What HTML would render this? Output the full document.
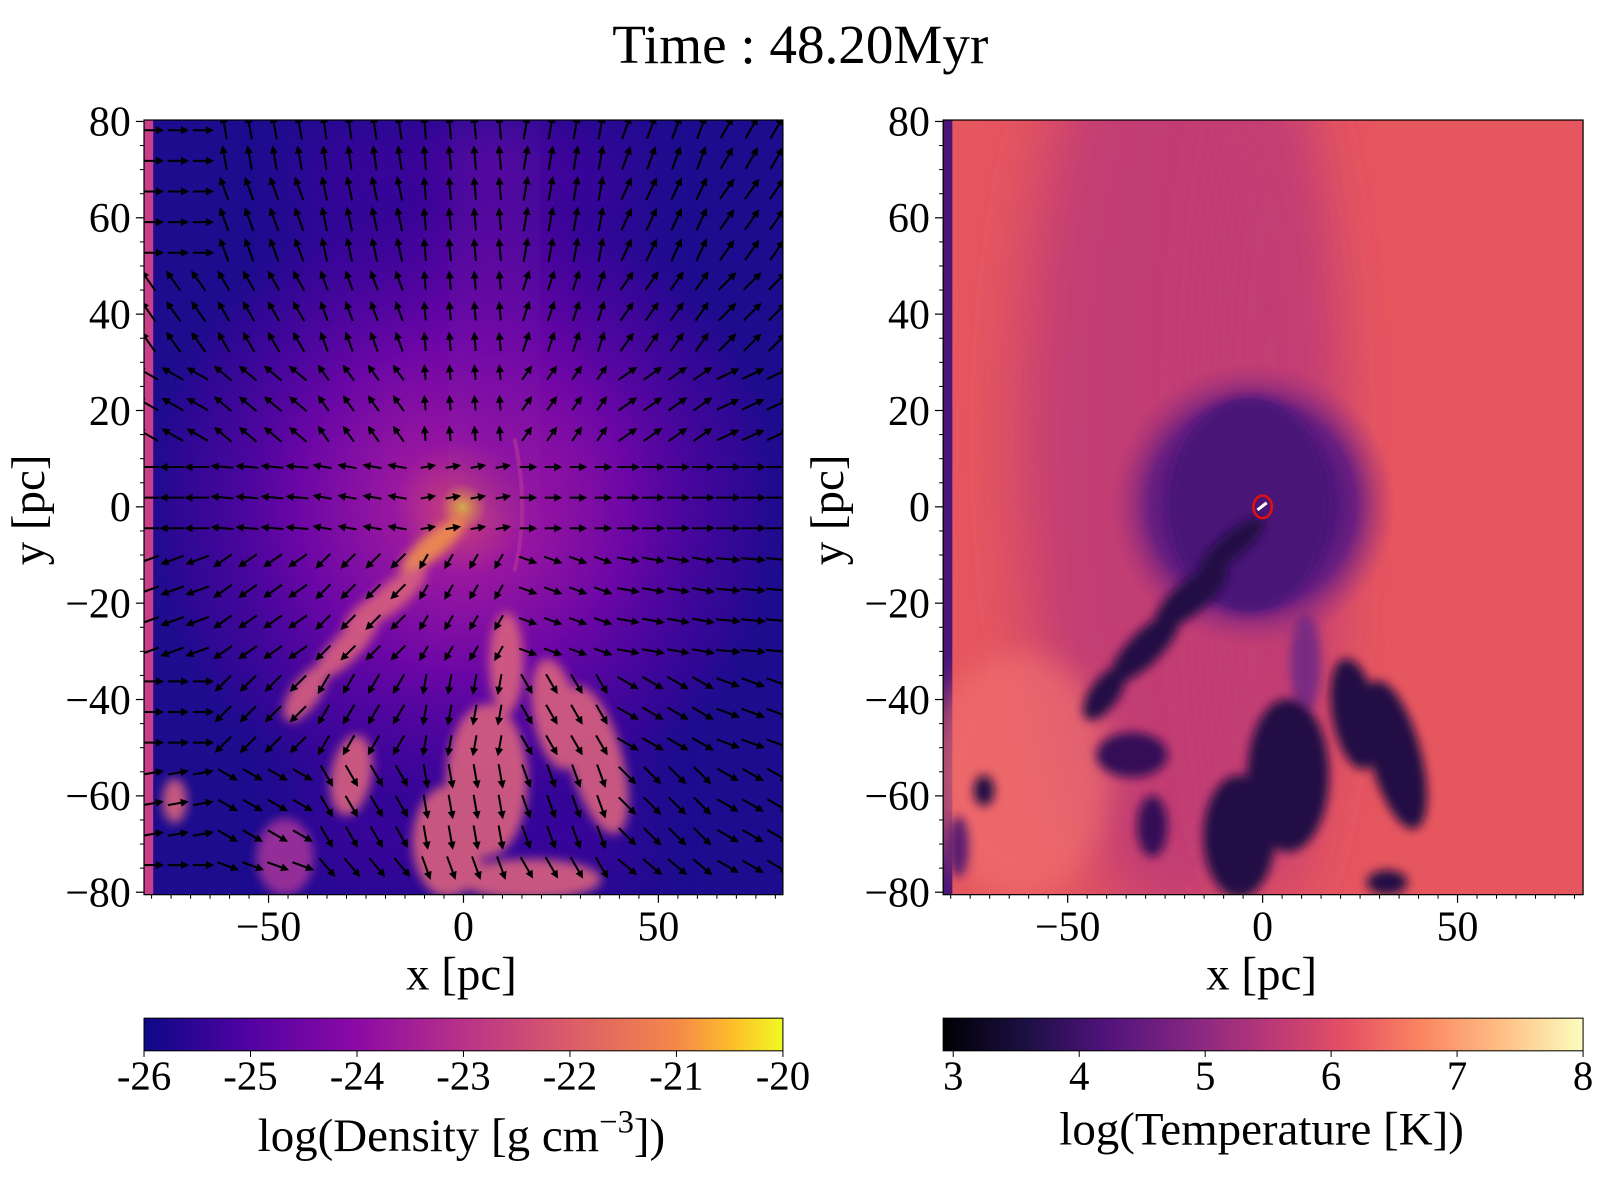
<!DOCTYPE html>
<html><head><meta charset="utf-8"><style>
html,body{margin:0;padding:0;background:#fff;}
svg{display:block;font-family:"Liberation Serif",serif;}
</style></head><body>
<svg id="fig" width="1600" height="1200" viewBox="0 0 1600 1200">
<defs>
<filter id="blur4" x="-50%" y="-50%" width="200%" height="200%"><feGaussianBlur stdDeviation="5"/></filter>
<filter id="blur10" x="-50%" y="-50%" width="200%" height="200%"><feGaussianBlur stdDeviation="14"/></filter>
<filter id="blur30" x="-50%" y="-50%" width="200%" height="200%"><feGaussianBlur stdDeviation="30"/></filter>
<clipPath id="clipL"><rect x="142" y="118" width="626" height="759"/></clipPath>
<clipPath id="clipR"><rect x="925" y="118" width="627" height="759"/></clipPath>
<radialGradient id="denCore" cx="455" cy="497" r="330" gradientUnits="userSpaceOnUse">
<stop offset="0" stop-color="#f0e030"/><stop offset="0.025" stop-color="#f0a040"/><stop offset="0.07" stop-color="#c8407e"/>
<stop offset="0.2" stop-color="#9a18a0"/><stop offset="0.5" stop-color="#6a06a6"/><stop offset="0.85" stop-color="#3a0598" stop-opacity="0.6"/><stop offset="1" stop-color="#1b0c8c" stop-opacity="0"/>
</radialGradient>
<radialGradient id="tempInner" cx="1228" cy="495" r="140" gradientUnits="userSpaceOnUse">
<stop offset="0" stop-color="#3f1270"/><stop offset="0.55" stop-color="#4d167a"/><stop offset="0.72" stop-color="#6a1f80"/><stop offset="1" stop-color="#a5327c" stop-opacity="0"/>
</radialGradient>
<linearGradient id="plasma" x1="0" x2="1" y1="0" y2="0">
<stop offset="0" stop-color="#0d0887"/><stop offset="0.1667" stop-color="#5302a3"/><stop offset="0.3333" stop-color="#8b0aa5"/>
<stop offset="0.5" stop-color="#b83289"/><stop offset="0.6667" stop-color="#db5c68"/><stop offset="0.8333" stop-color="#f48849"/><stop offset="0.92" stop-color="#febd2a"/><stop offset="1" stop-color="#f0f921"/>
</linearGradient>
<linearGradient id="magma" x1="0" x2="1" y1="0" y2="0">
<stop offset="0" stop-color="#000004"/><stop offset="0.13" stop-color="#1c1044"/><stop offset="0.25" stop-color="#4f127b"/>
<stop offset="0.38" stop-color="#812581"/><stop offset="0.5" stop-color="#b5367a"/><stop offset="0.63" stop-color="#e55064"/>
<stop offset="0.75" stop-color="#fb8761"/><stop offset="0.88" stop-color="#fec287"/><stop offset="1" stop-color="#fcfdbf"/>
</linearGradient>
<marker id="ah" viewBox="0 0 10 10" refX="2" refY="5" markerWidth="4" markerHeight="4" orient="auto"><path d="M0,0 L10,5 L0,10 z" fill="#000"/></marker>
</defs>
<g transform="matrix(1.0206,0,0,1.0206,-0.9,-0.4)">
<text x="785" y="62" font-size="54" text-anchor="middle">Time : 48.20Myr</text>

<!-- LEFT: density -->
<g clip-path="url(#clipL)">
<rect x="142" y="118" width="626" height="759" fill="#1d0c8e"/>
<rect x="300" y="118" width="320" height="759" fill="#4a03a0" opacity="0.6" filter="url(#blur30)"/>
<rect x="142" y="118" width="626" height="759" fill="url(#denCore)"/>
<rect x="440" y="118" width="90" height="400" fill="#7a0aa8" opacity="0.5" filter="url(#blur30)"/>
<path d="M505,430 Q520,500 505,560" stroke="#b0309a" stroke-width="4" fill="none" opacity="0.7"/>
<rect x="142" y="118" width="9" height="759" fill="#c8408a"/>
<g filter="url(#blur4)" fill="#d8607e" opacity="0.9">
<ellipse cx="425" cy="535" rx="40" ry="12" transform="rotate(-40 425 535)" fill="#f0904c"/>
<ellipse cx="385" cy="585" rx="42" ry="14" transform="rotate(-40 385 585)"/>
<ellipse cx="340" cy="635" rx="42" ry="14" transform="rotate(-45 340 635)"/>
<ellipse cx="300" cy="680" rx="32" ry="14" transform="rotate(-55 300 680)"/>
<ellipse cx="360" cy="600" rx="28" ry="10" transform="rotate(-40 360 600)"/>
<ellipse cx="497" cy="650" rx="17" ry="50"/>
<ellipse cx="478" cy="765" rx="40" ry="75"/>
<ellipse cx="545" cy="700" rx="22" ry="55" transform="rotate(-10 545 700)"/>
<ellipse cx="585" cy="745" rx="26" ry="75" transform="rotate(-15 585 745)"/>
<ellipse cx="440" cy="825" rx="35" ry="55"/>
<ellipse cx="345" cy="760" rx="20" ry="40" transform="rotate(10 345 760)"/>
<ellipse cx="172" cy="785" rx="12" ry="22"/>
<ellipse cx="280" cy="840" rx="28" ry="38" fill="#a0309a"/>
<ellipse cx="520" cy="862" rx="70" ry="20"/>
</g>
<g id="quiver"></g>
</g>
<rect x="142" y="118" width="626" height="759" fill="none" stroke="#000" stroke-width="1.2"/>
<g id="axesL"></g>
<text x="453" y="970" font-size="46" text-anchor="middle">x [pc]</text>
<text transform="translate(44 500) rotate(-90)" font-size="46" text-anchor="middle">y [pc]</text>

<!-- RIGHT: temperature -->
<g clip-path="url(#clipR)">
<rect x="925" y="118" width="627" height="759" fill="#e6565f"/>
<ellipse cx="1150" cy="430" rx="150" ry="480" fill="#c23e73" filter="url(#blur30)"/>
<ellipse cx="1245" cy="470" rx="60" ry="420" fill="#c23e73" filter="url(#blur30)"/>
<ellipse cx="1228" cy="500" rx="140" ry="170" fill="url(#tempInner)"/>
<ellipse cx="1225" cy="495" rx="78" ry="105" fill="#4a1577" filter="url(#blur4)"/>
<rect x="925" y="118" width="9" height="759" fill="#4a1577"/>
<ellipse cx="1000" cy="760" rx="90" ry="120" fill="#ef7070" filter="url(#blur10)" opacity="0.7"/>
<g filter="url(#blur4)" fill="#240a44">
<ellipse cx="1208" cy="535" rx="40" ry="12" transform="rotate(-40 1208 535)"/>
<ellipse cx="1168" cy="585" rx="45" ry="16" transform="rotate(-40 1168 585)"/>
<ellipse cx="1123" cy="635" rx="45" ry="16" transform="rotate(-45 1123 635)"/>
<ellipse cx="1083" cy="680" rx="30" ry="14" transform="rotate(-55 1083 680)"/>
<ellipse cx="1110" cy="740" rx="35" ry="22" fill="#351057"/>
<ellipse cx="1130" cy="810" rx="15" ry="30" fill="#351057"/>
<ellipse cx="1280" cy="650" rx="15" ry="50" fill="#7a2a82"/>
<ellipse cx="1263" cy="760" rx="40" ry="75"/>
<ellipse cx="1328" cy="700" rx="22" ry="55" transform="rotate(-10 1328 700)"/>
<ellipse cx="1368" cy="740" rx="25" ry="75" transform="rotate(-15 1368 740)"/>
<ellipse cx="1215" cy="820" rx="35" ry="60"/>
<ellipse cx="965" cy="775" rx="10" ry="15"/>
<ellipse cx="940" cy="830" rx="10" ry="30" fill="#5a1a70"/>
<ellipse cx="1360" cy="865" rx="20" ry="12"/>
</g>
<ellipse cx="1238" cy="497" rx="9" ry="11" fill="none" stroke="#e01010" stroke-width="2.5"/>
<path d="M1233,500 L1242,493" stroke="#fff" stroke-width="3"/>
</g>
<rect x="925" y="118" width="627" height="759" fill="none" stroke="#000" stroke-width="1.2"/>
<g id="axesR"></g>
<text x="1237" y="970" font-size="46" text-anchor="middle">x [pc]</text>
<text transform="translate(827 500) rotate(-90)" font-size="46" text-anchor="middle">y [pc]</text>

<!-- colorbars -->
<rect x="142" y="998" width="626" height="32" fill="url(#plasma)" stroke="#000" stroke-width="1"/>
<rect x="925" y="998" width="627" height="32" fill="url(#magma)" stroke="#000" stroke-width="1"/>
<g id="cbL"></g>
<g id="cbR"></g>
<text x="453" y="1128" font-size="46" text-anchor="middle">log(Density [g cm<tspan dy="-18" font-size="32">−3</tspan><tspan dy="18">])</tspan></text>
<text x="1237" y="1122" font-size="46" text-anchor="middle">log(Temperature [K])</text>
</g>
</svg>
<script>
const NS = "http://www.w3.org/2000/svg";
// axis data
const xTicks = [-50, 0, 50];
const yTicks = [80, 60, 40, 20, 0, -20, -40, -60, -80];
const densTicks = [-26, -25, -24, -23, -22, -21, -20];
const tempTicks = [3, 4, 5, 6, 7, 8];
// coarse velocity direction grid (degrees, 0 = +x, 90 = +y), rows y=80..-80, cols x=-80..80
const velRowsY = [80, 60, 40, 20, 0, -20, -40, -60, -80];
const velColsX = [-80, -53, -27, 0, 27, 53, 80];
const velAngle = [
 [0,100,98,95,80,70,60],
 [0,110,102,95,80,65,55],
 [125,120,110,95,72,55,45],
 [150,140,125,95,55,35,25],
 [180,175,170,10,0,0,0],
 [200,215,225,240,-20,-10,-5],
 [0,225,240,260,-60,-30,-20],
 [10,-30,-60,-80,-70,-45,-30],
 [0,-20,-50,-70,-60,-40,-30]
];
const velMag = [
 [0.8,1,1,1,1,1,1],
 [0.8,1,1,0.9,1,1,1],
 [1,0.9,0.8,0.7,0.8,0.9,1],
 [1,0.9,0.7,0.5,0.6,0.9,1],
 [1,0.9,0.7,0.5,0.6,0.9,1],
 [1,0.9,0.8,0.6,0.7,0.9,1],
 [0.8,0.9,0.9,0.8,0.9,1,1],
 [0.8,0.9,1,1,1,1,1],
 [0.8,0.9,1,1,1,1,1]
];
function xL(v){return 455 + v*3.82;}
function xR(v){return 1238 + v*3.82;}
function yS(v){return 497 - v*4.72;}
function add(parent, tag, attrs){const e=document.createElementNS(NS,tag);for(const k in attrs)e.setAttribute(k,attrs[k]);parent.appendChild(e);return e;}
function nearestIdx(arr,v){let b=0;for(let i=1;i<arr.length;i++)if(Math.abs(arr[i]-v)<Math.abs(arr[b]-v))b=i;return b;}
// quiver
const q=document.getElementById('quiver');
for(let px=148;px<770;px+=24.5){
 for(let py=128;py<877;py+=30){
  const vx=(px-455)/3.82, vy=(497-py)/4.72;
  const r=nearestIdx(velRowsY,vy), c=nearestIdx(velColsX,vx);
  const a=velAngle[r][c]*Math.PI/180, L=18*velMag[r][c];
  const dx=Math.cos(a)*L, dy=-Math.sin(a)*L;
  const ln=add(q,'line',{x1:px-dx/2,y1:py-dy/2,x2:px+dx/2,y2:py+dy/2,stroke:'#000','stroke-width':2,'marker-end':'url(#ah)'});
  
  
 }
}
function axes(id, xf, x0, x1){
 const g=document.getElementById(id);
 yTicks.forEach(t=>{
  add(g,'line',{x1:x0-8,x2:x0,y1:yS(t),y2:yS(t),stroke:'#000','stroke-width':1.2});
  const tx=add(g,'text',{x:x0-13,y:yS(t)+14,'font-size':41,'text-anchor':'end'});
  tx.textContent=String(t).replace('-','−');
  
  
 });
 for(let t=-80;t<=80;t+=5){if(t%20)add(g,'line',{x1:x0-4,x2:x0,y1:yS(t),y2:yS(t),stroke:'#000'});}
 xTicks.forEach(t=>{
  add(g,'line',{x1:xf(t),x2:xf(t),y1:877,y2:885,stroke:'#000','stroke-width':1.2});
  const tx=add(g,'text',{x:xf(t),y:922,'font-size':41,'text-anchor':'middle'});
  tx.textContent=String(t).replace('-','−');
  
  
 });
 for(let t=-80;t<=80;t+=5){if(t%50)add(g,'line',{x1:xf(t),x2:xf(t),y1:877,y2:881,stroke:'#000'});}
}
axes('axesL', xL, 142, 768);
axes('axesR', xR, 925, 1552);
function cb(id, ticks, lo, hi, x0, w){
 const g=document.getElementById(id);
 ticks.forEach(t=>{
  const x=x0+(t-lo)/(hi-lo)*w;
  add(g,'line',{x1:x,x2:x,y1:1030,y2:1036,stroke:'#000'});
  const tx=add(g,'text',{x:x,y:1068,'font-size':40,'text-anchor':'middle'});
  tx.textContent=String(t);
  
  
 });
}
cb('cbL', densTicks, -26, -20, 142, 626);
cb('cbR', tempTicks, 2.92, 8, 925, 627);
</script>
</body></html>
